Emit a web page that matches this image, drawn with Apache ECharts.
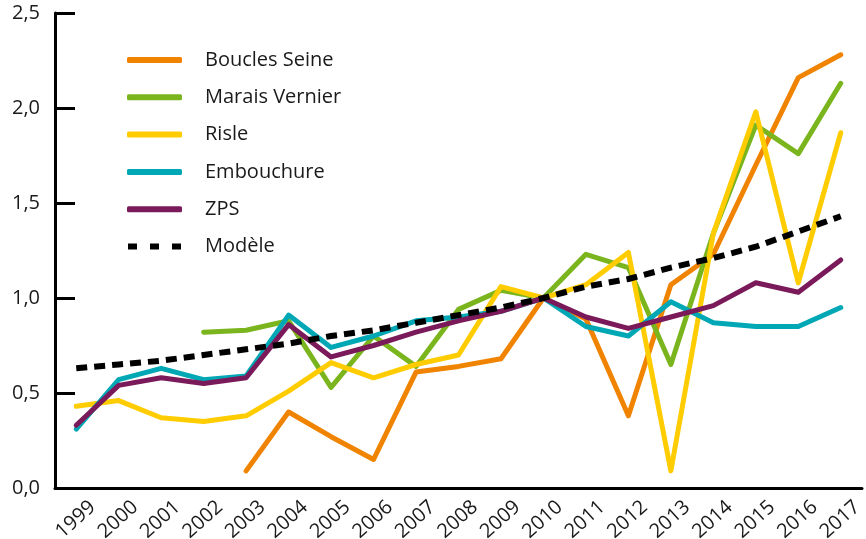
<!DOCTYPE html>
<html>
<head>
<meta charset="utf-8">
<title>Indice</title>
<script src="https://cdn.jsdelivr.net/npm/echarts@6/dist/echarts.min.js"></script>
<style>
	html, body { margin: 0; padding: 0; background: #fff; }
	#main { width: 866px; height: 539px; }
</style>
</head>
<body>
<div id="main"></div>
<script>
var years = ['1999', '2000', '2001', '2002', '2003', '2004', '2005', '2006', '2007', '2008',
	'2009', '2010', '2011', '2012', '2013', '2014', '2015', '2016', '2017'];
var yTicks = [0, 0.5, 1.0, 1.5, 2.0, 2.5];

var bouclesSeine = [null, null, null, null, 0.09, 0.40, 0.27, 0.15, 0.61, 0.64, 0.68, 1.00, 0.89, 0.38, 1.07, 1.23, 1.70, 2.16, 2.28];
var maraisVernier = [null, null, null, 0.82, 0.83, 0.88, 0.53, 0.80, 0.64, 0.94, 1.04, 1.00, 1.23, 1.16, 0.65, 1.34, 1.91, 1.76, 2.13];
var risle = [0.43, 0.46, 0.37, 0.35, 0.38, 0.51, 0.66, 0.58, 0.65, 0.70, 1.06, 1.00, 1.07, 1.24, 0.09, 1.34, 1.98, 1.08, 1.87];
var embouchure = [0.31, 0.57, 0.63, 0.57, 0.59, 0.91, 0.74, 0.80, 0.88, 0.90, 0.93, 1.00, 0.85, 0.80, 0.98, 0.87, 0.85, 0.85, 0.95];
var zps = [0.33, 0.54, 0.58, 0.55, 0.58, 0.86, 0.69, 0.75, 0.82, 0.88, 0.93, 1.00, 0.90, 0.84, 0.90, 0.96, 1.08, 1.03, 1.20];
var modele = [0.63, 0.65, 0.67, 0.70, 0.73, 0.76, 0.80, 0.83, 0.87, 0.91, 0.95, 1.00, 1.06, 1.10, 1.16, 1.21, 1.27, 1.35, 1.43];

var font = 'Open Sans';
// legend swatch for the dashed model line
var dashIcon = 'path://M0,0h9v6h-9z M22,0h9v6h-9z M44,0h9v6h-9z';

function line(name, data, color) {
	return {
		name: name,
		type: 'line',
		data: data,
		symbol: 'none',
		lineStyle: { color: color, width: 5, cap: 'round', join: 'round' },
		itemStyle: { color: color }
	};
}

var myChart = echarts.init(document.getElementById('main'));
var option = {
	animation: false,
	grid: { left: 55, right: 4, top: 13, bottom: 51, containLabel: false, outerBoundsMode: 'none' },
	legend: {
		orient: 'vertical',
		left: 127,
		top: 49,
		padding: 0,
		icon: 'roundRect',
		itemWidth: 55,
		itemHeight: 6,
		itemGap: 15.3,
		textStyle: { fontFamily: font, fontSize: 20, lineHeight: 22, color: '#1a1a1a', padding: [0, 0, 0, 18] },
		data: ['Boucles Seine', 'Marais Vernier', 'Risle', 'Embouchure', 'ZPS',
			{ name: 'Modèle', icon: dashIcon }]
	},
	xAxis: {
		type: 'category',
		data: years,
		boundaryGap: true,
		axisLine: { lineStyle: { color: '#000', width: 3 } },
		axisTick: { inside: true, length: 11, lineStyle: { color: '#000', width: 3 } },
		axisLabel: {
			rotate: 42,
			interval: 0,
			margin: 31,
			padding: [0, -22, 0, 0],
			fontFamily: font,
			fontSize: 20,
			color: '#1a1a1a'
		}
	},
	yAxis: {
		type: 'value',
		min: yTicks[0],
		max: yTicks[yTicks.length - 1],
		interval: 0.5,
		splitLine: { show: false },
		axisLine: { show: true, lineStyle: { color: '#000', width: 3 } },
		axisTick: { show: true, inside: true, length: 20, lineStyle: { color: '#000', width: 3 } },
		axisLabel: {
			margin: 15,
			fontFamily: font,
			fontSize: 20,
			color: '#1a1a1a',
			formatter: function (v) { return v.toFixed(1).replace('.', ','); }
		}
	},
	series: [
		line('Boucles Seine', bouclesSeine, '#F08300'),
		line('Marais Vernier', maraisVernier, '#7AB51D'),
		line('Risle', risle, '#FFCC00'),
		line('Embouchure', embouchure, '#00A7B5'),
		line('ZPS', zps, '#7B1A5A'),
		{
			name: 'Modèle',
			type: 'line',
			data: modele,
			symbol: 'none',
			lineStyle: { color: '#000', width: 6, type: [11, 7] },
			itemStyle: { color: '#000' }
		}
	]
};
myChart.setOption(option);
</script>
</body>
</html>
